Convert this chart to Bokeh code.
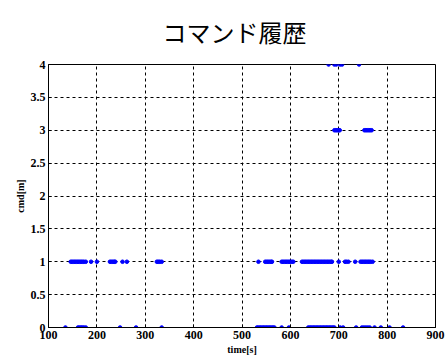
from bokeh.plotting import figure
from bokeh.embed import file_html
from bokeh.resources import INLINE
from bokeh.models import FixedTicker, NumeralTickFormatter, Range1d

title_text = "コマンド履歴"
x_label = "time[s]"
y_label = "cmd[m]"

x_ticks = [100, 200, 300, 400, 500, 600, 700, 800, 900]
y_ticks = [0, 0.5, 1, 1.5, 2, 2.5, 3, 3.5, 4]

t_cmd0 = [135, 161, 164, 167, 170, 173, 177, 248, 281, 334,
          531, 534, 537, 540, 543, 546, 549, 552, 555, 558, 561, 564, 567,
          582, 597,
          637, 640, 643, 646, 649, 652, 655, 658, 661, 664, 667, 670, 673,
          676, 679, 682, 685, 688, 691, 703, 709, 736, 748, 752, 756, 760,
          764, 774, 787, 805, 833]
t_cmd1 = [146, 149, 152, 155, 158, 161, 164, 167, 170, 173, 177, 188, 200,
          227, 230, 233, 236, 238, 253, 262, 324, 327, 330, 334,
          534, 548, 551, 554, 557, 560, 562,
          582, 585, 588, 591, 594, 597, 600, 603, 606,
          624, 627, 630, 633, 636, 639, 642, 645, 648, 651, 654, 657, 660,
          663, 666, 669, 672, 675, 678, 681, 684, 686,
          700, 713, 716, 720, 734, 745, 748, 751, 754, 757, 760, 763, 766, 770]
t_cmd3 = [691, 694, 697, 700, 702, 753, 756, 759, 762, 765, 768]
t_cmd4 = [679, 691, 695, 703, 707, 742]

p = figure(width=447, height=360, output_backend="svg", toolbar_location=None,
           x_range=Range1d(100, 900), y_range=Range1d(0, 4),
           min_border_left=48, min_border_right=12, min_border_bottom=33,
           min_border_top=64)

p.title.text = title_text
p.title.text_font = "Noto Sans CJK JP"
p.title.text_font_size = "24px"
p.title.text_font_style = "normal"
p.title.text_color = "black"
p.title.align = "left"
p.title.offset = 114
p.title.standoff = 27
p.title.vertical_align = "top"

for xs, yv in ((t_cmd0, 0), (t_cmd1, 1), (t_cmd3, 3), (t_cmd4, 4)):
    p.scatter(xs, [yv] * len(xs), size=3.6, color="#0000ff", line_color="#0000ff")

p.xaxis.ticker = FixedTicker(ticks=x_ticks)
p.yaxis.ticker = FixedTicker(ticks=y_ticks)
p.yaxis.formatter = NumeralTickFormatter(format="0.[0]")

for ax in (p.xaxis, p.yaxis):
    ax.major_label_text_font = "Liberation Serif"
    ax.major_label_text_font_style = "bold"
    ax.major_label_text_font_size = "12px"
    ax.major_label_text_color = "black"
    ax.axis_label_text_font = "Liberation Serif"
    ax.axis_label_text_font_style = "bold"
    ax.axis_label_text_font_size = "10px"
    ax.axis_label_text_color = "black"
    ax.major_tick_in = 3
    ax.major_tick_out = 0
    ax.minor_tick_in = 0
    ax.minor_tick_out = 0
    ax.axis_line_color = "black"
    ax.major_tick_line_color = "black"
    ax.major_label_standoff = 3
    ax.axis_label_standoff = 2

p.xaxis.axis_label = x_label
p.yaxis.axis_label = y_label

p.xgrid.grid_line_color = "black"
p.ygrid.grid_line_color = "black"
p.xgrid.grid_line_dash = "3 3"
p.ygrid.grid_line_dash = "3 3"
p.xgrid.grid_line_width = 1
p.ygrid.grid_line_width = 1

p.outline_line_color = "black"
p.outline_line_width = 1

open("out.html", "w").write(file_html(p, INLINE))
